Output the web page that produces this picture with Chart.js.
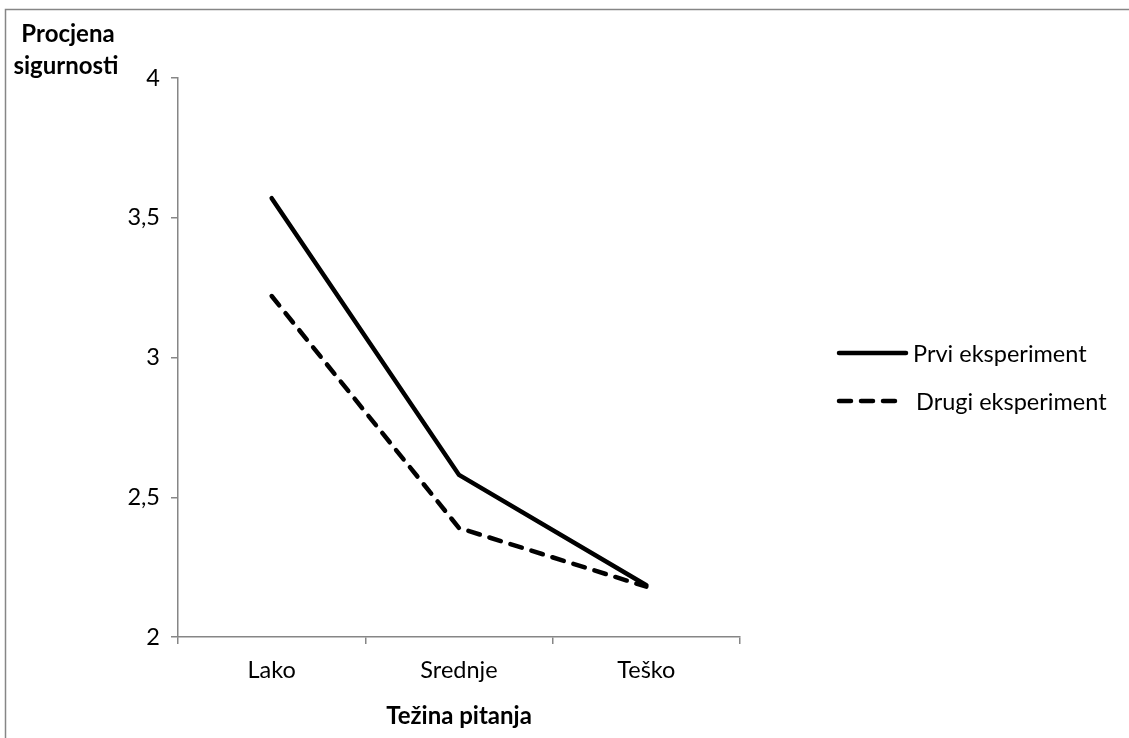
<!DOCTYPE html>
<html>
<head>
<meta charset="utf-8">
<script src="https://cdn.jsdelivr.net/npm/chart.js@4/dist/chart.umd.min.js"></script>
<style>
  html, body { margin: 0; padding: 0; background: #fff; }
  #wrap { width: 1129px; height: 738px; position: relative; }
</style>
</head>
<body>
<div id="wrap"><canvas id="myChart" width="1129" height="738"></canvas></div>
<script>
const categories = ['Lako', 'Srednje', 'Teško'];
const prviValues = [3.57, 2.58, 2.185];
const drugiValues = [3.22, 2.39, 2.18];
const seriesNames = ['Prvi eksperiment', 'Drugi eksperiment'];
const yTicks = [2, 2.5, 3, 3.5, 4];

const axisGray = '#868686';
const fontFamily = 'Lato, "Noto Sans", sans-serif';
const fontSize = 23.5;

// frame, y title and legend drawn on the canvas
const extras = {
  id: 'extras',
  beforeDraw(chart) {
    const ctx = chart.ctx;
    ctx.save();
    ctx.strokeStyle = axisGray;
    ctx.lineWidth = 1.5;
    ctx.beginPath();
    ctx.moveTo(5.5, 2000);
    ctx.lineTo(5.5, 9.5);
    ctx.lineTo(2000, 9.5);
    ctx.stroke();
    ctx.restore();
  },
  afterDraw(chart) {
    const ctx = chart.ctx;
    ctx.save();
    ctx.fillStyle = '#000';
    ctx.font = 'bold 24px ' + fontFamily;
    ctx.textAlign = 'center';
    ctx.textBaseline = 'middle';
    ctx.fillText('Procjena', 68, 34);
    ctx.fillText('sigurnosti', 66, 66);

    // legend
    const rows = [353, 401];
    chart.data.datasets.forEach(function(ds, i) {
      const y = rows[i];
      ctx.strokeStyle = ds.borderColor;
      ctx.lineWidth = ds.borderWidth;
      ctx.lineCap = 'round';
      ctx.setLineDash(ds.borderDash || []);
      ctx.beginPath();
      ctx.moveTo(839, y);
      ctx.lineTo(i === 0 ? 906 : 899, y);
      ctx.stroke();
      ctx.setLineDash([]);
      ctx.font = fontSize + 'px ' + fontFamily;
      ctx.textAlign = 'left';
      ctx.fillStyle = '#000';
      ctx.fillText(ds.label, i === 0 ? 913 : 916, y + 1);
    });
    ctx.restore();
  }
};

const data = {
  labels: categories,
  datasets: [{
    label: seriesNames[0],
    data: prviValues,
    borderColor: '#000',
    borderWidth: 4.5,
    borderCapStyle: 'round',
    borderJoinStyle: 'miter',
    pointRadius: 0,
    fill: false,
    tension: 0
  },
  {
    label: seriesNames[1],
    data: drugiValues,
    borderColor: '#000',
    borderWidth: 4.5,
    borderDash: [12, 10],
    borderCapStyle: 'round',
    borderJoinStyle: 'round',
    pointRadius: 0,
    fill: false,
    tension: 0
  }]
};

const config = {
  type: 'line',
  data: data,
  options: {
    responsive: false,
    animation: false,
    layout: { padding: { left: 118, right: 389, top: 78, bottom: 1 } },
    plugins: {
      legend: { display: false },
      tooltip: { enabled: false }
    },
    scales: {
      x: {
        offset: true,
        grid: { offset: true, drawOnChartArea: false, drawTicks: true, tickLength: 7, color: axisGray, lineWidth: 1.5 },
        border: { color: axisGray, width: 1.5 },
        ticks: { color: '#000', font: { family: fontFamily, size: fontSize }, padding: 12 },
        title: { display: true, text: 'Težina pitanja', color: '#000', font: { family: fontFamily, size: 24, weight: 'bold' }, padding: { top: 10, bottom: 6 } },
        afterFit: function(s) { s.height = 100; }
      },
      y: {
        min: 2,
        max: 4,
        afterBuildTicks: function(s) { s.ticks = yTicks.map(function(v) { return { value: v }; }); },
        grid: { drawOnChartArea: false, drawTicks: true, tickLength: 7, color: axisGray, lineWidth: 1.5 },
        border: { color: axisGray, width: 1.5 },
        ticks: {
          color: '#000',
          font: { family: fontFamily, size: fontSize },
          padding: 11,
          callback: function(v) { return String(v).replace('.', ','); }
        },
        afterFit: function(s) { s.width = 60; }
      }
    }
  },
  plugins: [extras]
};

var myChart = new Chart(document.getElementById('myChart'), config);
</script>
</body>
</html>
